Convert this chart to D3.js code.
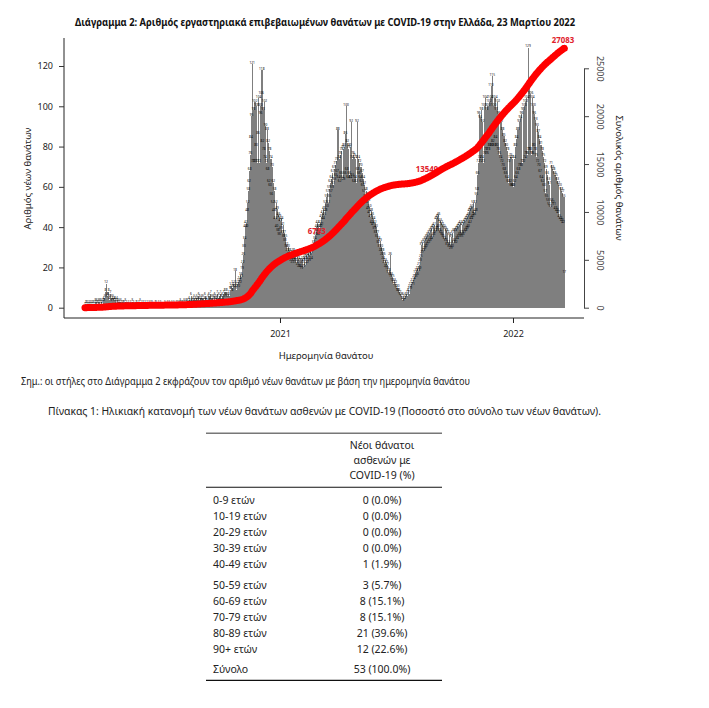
<!DOCTYPE html>
<html><head><meta charset="utf-8">
<script src="https://cdn.jsdelivr.net/npm/d3@7"></script>
<style>body{margin:0;background:#fff} svg{display:block}</style>
</head><body><svg id="c" width="709" height="708"></svg>
<script>
// ---------- DATA ----------
const startDate = "2020-03-01";
// daily new deaths by date of death, Mar 1 2020 – Dec 31 2020
const deaths2020 = [
 1,2,2,1,2,1,2,1,2,1,2,1,2,2,1,2,3,2,3,2,2,3,2,3,2,3,2,2,3,4,3,
 5,8,12,5,6,6,8,4,5,7,3,5,4,5,3,4,4,3,2,4,3,2,3,2,1,3,2,1,2,2,
 2,1,3,1,2,1,1,2,1,0,2,1,1,3,1,2,1,0,1,2,2,1,1,2,0,3,1,1,2,1,2,
 1,1,2,1,0,2,1,1,2,0,1,2,1,2,1,0,1,1,2,2,1,1,0,2,1,1,2,1,1,0,
 1,0,1,2,1,1,0,2,1,1,2,1,0,1,2,1,1,2,1,0,1,2,1,2,1,2,1,3,2,1,2,
 2,1,3,2,1,3,2,3,1,2,4,3,2,6,3,2,4,3,5,2,4,3,5,4,3,6,4,5,3,4,5,
 3,5,2,4,6,3,4,3,2,5,6,3,4,7,5,3,5,4,5,6,4,5,4,7,5,3,6,4,7,5,
 5,6,4,7,5,8,6,5,8,6,5,7,6,9,9,11,10,8,12,10,11,18,10,9,12,11,10,13,14,12,16,
 15,19,22,26,30,34,40,42,40,48,52,58,62,68,76,84,95,121,72,98,72,102,72,80,100,72,86,104,72,100,
 96,106,118,82,98,78,102,74,90,72,88,68,82,62,78,60,74,56,70,52,62,48,58,44,52,40,49,38,46,36,45
];
const deaths2021 = [
 43,39,44,37,41,35,37,33,35,30,31,28,30,26,28,24,27,23,26,22,28,24,27,23,26,22,25,21,24,20,23,
 20,23,19,22,24,20,23,25,21,24,26,22,25,27,23,26,28,24,27,29,29,32,30,34,36,38,40,42,
 36,40,38,42,40,45,41,47,44,49,46,52,48,55,50,57,52,59,55,62,57,64,59,67,61,69,63,71,65,73,67,
 88,64,74,62,76,66,78,64,79,63,80,66,86,100,68,82,64,79,66,80,64,92,74,65,76,62,75,64,74,62,
 92,68,74,66,72,64,70,62,67,60,64,57,61,55,58,52,56,49,53,47,50,45,48,42,46,41,44,39,42,37,40,
 35,37,32,34,30,33,28,30,26,28,24,26,22,23,20,22,19,21,17,18,16,26,15,16,13,15,12,13,11,12,
 10,9,8,10,7,8,6,7,5,6,4,6,3,5,4,6,5,7,6,8,9,7,10,11,9,12,13,11,14,15,17,
 15,18,16,19,18,21,19,23,25,31,27,32,28,33,29,34,30,35,31,36,32,37,33,38,34,39,35,40,36,41,37,
 38,44,39,45,40,46,38,43,37,42,36,41,35,40,34,39,33,38,31,37,32,30,36,31,29,35,30,37,32,38,
 33,38,32,39,34,40,35,41,36,42,37,35,41,36,42,37,43,38,44,39,45,40,46,48,42,49,44,50,45,52,47,
 46,52,48,56,58,66,72,96,74,94,72,98,74,92,72,100,76,104,78,98,76,100,78,102,80,104,110,80,115,82,
 100,80,104,84,98,80,102,78,96,76,94,74,92,72,88,70,85,68,82,66,80,64,78,62,72,74,62,75,60,74,60
];
// Jan 1 2022 – Mar 22 2022
const deaths2022 = [
 60,74,62,80,64,84,66,88,68,92,70,94,70,96,72,98,72,100,74,102,76,104,76,129,78,110,78,106,76,104,76,
 100,80,96,78,93,75,90,72,87,70,84,67,81,64,78,62,75,60,72,57,69,55,66,53,63,51,61,50,
 71,53,69,52,68,51,66,49,65,48,63,47,61,45,60,44,58,43,57,42,55,17
];
const leftTicks = [0, 20, 40, 60, 80, 100, 120];
const rightTicks = [0, 5000, 10000, 15000, 20000, 25000];
const yearTicks = ["2021-01-01", "2022-01-01"];
const labelDates = ["2021-03-06", "2021-08-21", "2022-03-22"];
const labelValues = [6783, 13549, 27083];

const ageGroups = ["0-9 ετών","10-19 ετών","20-29 ετών","30-39 ετών","40-49 ετών","50-59 ετών","60-69 ετών","70-79 ετών","80-89 ετών","90+ ετών"];
const ageCounts = [0, 0, 0, 0, 1, 3, 8, 8, 21, 12];
const totalLabel = "Σύνολο";

const titleText = "Διάγραμμα 2: Αριθμός εργαστηριακά επιβεβαιωμένων θανάτων με COVID-19 στην Ελλάδα, 23 Μαρτίου 2022";
const noteText = "Σημ.: οι στήλες στο Διάγραμμα 2 εκφράζουν τον αριθμό νέων θανάτων με βάση την ημερομηνία θανάτου";
const tableTitle = "Πίνακας 1: Ηλικιακή κατανομή των νέων θανάτων ασθενών με COVID-19 (Ποσοστό στο σύνολο των νέων θανάτων).";
const tableHeader = ["Νέοι θάνατοι", "ασθενών με", "COVID-19 (%)"];

// ---------- CHART ----------
const FONT = "'Noto Sans', 'Open Sans', sans-serif";
const svg = d3.select("#c").style("font-family", FONT);
const parse = d3.utcParse("%Y-%m-%d");
const start = parse(startDate);
const all = deaths2020.concat(deaths2021, deaths2022);
let cum = 0;
const rows = all.map((v, i) => { cum += v; return {date: d3.utcDay.offset(start, i), v, cum}; });
const endDate = d3.utcDay.offset(start, rows.length);

const x = d3.scaleUtc().domain([start, endDate]).range([84.65, 564.7]);
const dw = x(d3.utcDay.offset(start, 1)) - x(start);
const yL = d3.scaleLinear().domain([0, 120]).range([307.7, 66]);
const yR = d3.scaleLinear().domain([0, 25000]).range([307.7, 68.3]);

// title
svg.append("text").attr("x", 75).attr("y", 25.5).attr("font-weight", "bold")
  .attr("font-size", 11).attr("textLength", 500).attr("lengthAdjust", "spacingAndGlyphs")
  .attr("fill", "#111").text(titleText);

// bars
const gb = svg.append("g").attr("shape-rendering", "crispEdges");
gb.selectAll("rect").data(rows).join("rect")
  .attr("x", d => x(d.date)).attr("width", dw + 0.45)
  .attr("y", d => yL(d.v)).attr("height", d => yL(0) - yL(d.v))
  .attr("fill", "#7f7f7f");
// tiny value labels above bars
svg.append("g").selectAll("text").data(rows).join("text")
  .attr("x", d => x(d.date) + dw / 2).attr("y", d => yL(d.v) - 0.4)
  .attr("font-size", 3.2).attr("text-anchor", "middle").attr("fill", "#000")
  .text(d => d.v);

// frame (L shape)
svg.append("path").attr("d", `M64,38V318H584`).attr("fill", "none").attr("stroke", "#222").attr("stroke-width", 1);

// left axis
const ax = svg.append("g").attr("transform", "translate(64,0)")
  .call(d3.axisLeft(yL).tickValues(leftTicks).tickSize(5).tickPadding(6));
ax.select(".domain").remove();
ax.selectAll("line").attr("stroke", "#333");
ax.selectAll("text").attr("font-size", 9).attr("fill", "#222").attr("font-family", FONT);

// bottom axis
const bx = svg.append("g").attr("transform", "translate(0,318)")
  .call(d3.axisBottom(x).tickValues(yearTicks.map(parse)).tickFormat(d3.utcFormat("%Y")).tickSize(5).tickPadding(8));
bx.select(".domain").remove();
bx.selectAll("line").attr("stroke", "#222");
bx.selectAll("text").attr("font-size", 9).attr("fill", "#222").attr("font-family", FONT);

// right axis
const rx = svg.append("g").attr("transform", "translate(584,0)")
  .call(d3.axisRight(yR).tickValues(rightTicks).tickFormat(d3.format("d")).tickSize(5).tickSizeOuter(0));
rx.select(".domain").attr("stroke", "#444");
rx.selectAll("line").attr("stroke", "#444");
rx.selectAll("text").attr("x", 0).attr("dy", "0.35em").attr("text-anchor", "middle")
  .attr("transform", "translate(16,0) rotate(90)")
  .attr("font-size", 9).attr("fill", "#444").attr("font-family", FONT);

// axis titles
svg.append("text").attr("transform", "translate(27.5,178.5) rotate(-90)").attr("text-anchor", "middle")
  .attr("dy", "0.35em").attr("font-size", 9.5).attr("fill", "#222").text("Αριθμός νέων θανάτων");
svg.append("text").attr("transform", "translate(619,178) rotate(90)").attr("text-anchor", "middle")
  .attr("dy", "0.35em").attr("font-size", 9.5).attr("fill", "#222").text("Συνολικός αριθμός θανάτων");
svg.append("text").attr("x", 326).attr("y", 358.5).attr("text-anchor", "middle")
  .attr("font-size", 9.5).attr("fill", "#222").text("Ημερομηνία θανάτου");

// cumulative line labels (under the line)
const labelDy = [-9, -5.5, -5.5];
const labelDx = [-4, -1, -1];
svg.append("g").selectAll("text").data(labelDates.map((d, i) => ({date: parse(d), v: labelValues[i], dx: labelDx[i], dy: labelDy[i]})))
  .join("text").attr("x", d => x(d.date) + d.dx).attr("y", d => yR(d.v) + d.dy)
  .attr("text-anchor", "middle").attr("font-size", 8.5).attr("font-weight", "bold").attr("fill", "#e0202a")
  .attr("textLength", d => String(d.v).length * 4.5).attr("lengthAdjust", "spacingAndGlyphs")
  .text(d => d.v);

// cumulative line
svg.append("path").datum(rows)
  .attr("d", d3.line().x(d => x(d.date) + dw / 2).y(d => yR(d.cum)))
  .attr("fill", "none").attr("stroke", "#ff0000").attr("stroke-width", 7)
  .attr("stroke-linecap", "round").attr("stroke-linejoin", "round");

// note
svg.append("text").attr("x", 21).attr("y", 385).attr("font-size", 10).attr("fill", "#222")
  .attr("textLength", 449).attr("lengthAdjust", "spacingAndGlyphs").text(noteText);
svg.append("text").attr("x", 48).attr("y", 415).attr("font-size", 11).attr("fill", "#222")
  .attr("textLength", 553).attr("lengthAdjust", "spacingAndGlyphs").text(tableTitle);

// ---------- TABLE ----------
const tx0 = 206, tx1 = 442, labelX = 213, valX = 382;
const tt = svg.append("g").attr("font-size", 10.5).attr("fill", "#222");
tt.append("line").attr("x1", tx0).attr("x2", tx1).attr("y1", 433.3).attr("y2", 433.3).attr("stroke", "#777").attr("stroke-width", 1.6);
tableHeader.forEach((h, i) => {
  tt.append("text").attr("x", valX).attr("y", 448.8 + i * 15.3).attr("text-anchor", "middle").text(h);
});
tt.append("line").attr("x1", tx0).attr("x2", tx1).attr("y1", 487.3).attr("y2", 487.3).attr("stroke", "#111").attr("stroke-width", 1.1);
const total = d3.sum(ageCounts);
const rowY = i => 503.8 + i * 15.95 + (i >= 5 ? 5.8 : 0);
ageGroups.forEach((g, i) => {
  tt.append("text").attr("x", labelX).attr("y", rowY(i)).text(g);
  tt.append("text").attr("x", valX).attr("y", rowY(i)).attr("text-anchor", "middle")
    .text(`${ageCounts[i]} (${(100 * ageCounts[i] / total).toFixed(1)}%)`);
});
tt.append("text").attr("x", labelX).attr("y", 672.8).text(totalLabel);
tt.append("text").attr("x", valX).attr("y", 672.8).attr("text-anchor", "middle").text(`${total} (100.0%)`);
tt.append("line").attr("x1", tx0).attr("x2", tx1).attr("y1", 680.3).attr("y2", 680.3).attr("stroke", "#111").attr("stroke-width", 1.2);
</script></body></html>
